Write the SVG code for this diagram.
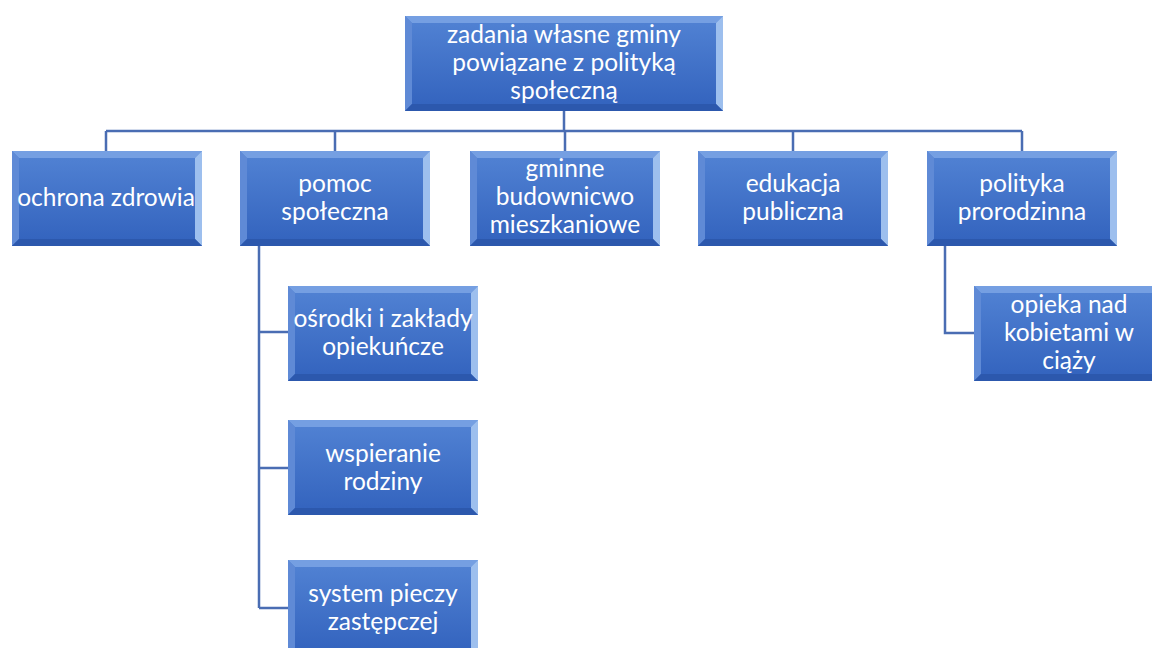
<svg xmlns="http://www.w3.org/2000/svg" xmlns:xlink="http://www.w3.org/1999/xlink" width="1152" height="648" viewBox="0 0 1152 648">
<style>
.t{font-family:Lato,"Liberation Sans",sans-serif;font-size:24.5px;fill:#ffffff;text-anchor:middle}
.c{fill:none;stroke:#4a6db3;stroke-width:2.5}
</style>
<defs>
<linearGradient id="g" x1="0" y1="0" x2="0" y2="1">
<stop offset="0" stop-color="#5283d4"/>
<stop offset="1" stop-color="#3262bd"/>
</linearGradient>
<g id="box">
<rect x="0" y="0" width="190" height="95" fill="url(#g)"/>
<polygon points="0,0 190,0 183,7 7,7" fill="#759fe2"/>
<polygon points="0,0 7,7 7,88 0,95" fill="#5f8ad6"/>
<polygon points="190,0 190,95 183,88 183,7" fill="#9dbfee"/>
<polygon points="0,95 190,95 183,88 7,88" fill="#2c58ad"/>
</g>
<g id="bigbox">
<rect x="0" y="0" width="318" height="95" fill="url(#g)"/>
<polygon points="0,0 318,0 311,7 7,7" fill="#759fe2"/>
<polygon points="0,0 7,7 7,88 0,95" fill="#5f8ad6"/>
<polygon points="318,0 318,95 311,88 311,7" fill="#9dbfee"/>
<polygon points="0,95 318,95 311,88 7,88" fill="#2c58ad"/>
</g>
</defs>
<rect width="1152" height="648" fill="#ffffff"/>
<g id="connectors">
<path class="c" d="M564,111 V131 M106,131 H1022 M106,131 V151 M335,131 V151 M565,131 V151 M793,131 V151 M1022,131 V151"/>
<path class="c" d="M259,246 V608 M259,332 H288 M259,468 H288 M259,608 H288"/>
<path class="c" d="M945,246 V333 H974"/>
</g>
<g id="n0"><use xlink:href="#bigbox" x="405" y="16"/>
<text class="t" x="564" y="43">zadania własne gminy</text>
<text class="t" x="564" y="71">powiązane z polityką</text>
<text class="t" x="564" y="99">społeczną</text></g>
<g id="n1"><use xlink:href="#box" x="12" y="151"/>
<text class="t" x="106" y="206">ochrona zdrowia</text></g>
<g id="n2"><use xlink:href="#box" x="240" y="151"/>
<text class="t" x="335" y="192">pomoc</text>
<text class="t" x="335" y="220">społeczna</text></g>
<g id="n3"><use xlink:href="#box" x="470" y="151"/>
<text class="t" x="565" y="177">gminne</text>
<text class="t" x="565" y="205">budownicwo</text>
<text class="t" x="565" y="233">mieszkaniowe</text></g>
<g id="n4"><use xlink:href="#box" x="698" y="151"/>
<text class="t" x="793" y="192">edukacja</text>
<text class="t" x="793" y="220">publiczna</text></g>
<g id="n5"><use xlink:href="#box" x="927" y="151"/>
<text class="t" x="1022" y="192">polityka</text>
<text class="t" x="1022" y="220">prorodzinna</text></g>
<g id="n6"><use xlink:href="#box" x="288" y="286"/>
<text class="t" x="383" y="327">ośrodki i zakłady</text>
<text class="t" x="383" y="355">opiekuńcze</text></g>
<g id="n7"><use xlink:href="#box" x="288" y="420"/>
<text class="t" x="383" y="462">wspieranie</text>
<text class="t" x="383" y="490">rodziny</text></g>
<g id="n8"><use xlink:href="#box" x="288" y="560"/>
<text class="t" x="383" y="602">system pieczy</text>
<text class="t" x="383" y="630">zastępczej</text></g>
<g id="n9"><use xlink:href="#box" x="974" y="286"/>
<text class="t" x="1069" y="313">opieka nad</text>
<text class="t" x="1069" y="341">kobietami w</text>
<text class="t" x="1069" y="369">ciąży</text></g>
</svg>
